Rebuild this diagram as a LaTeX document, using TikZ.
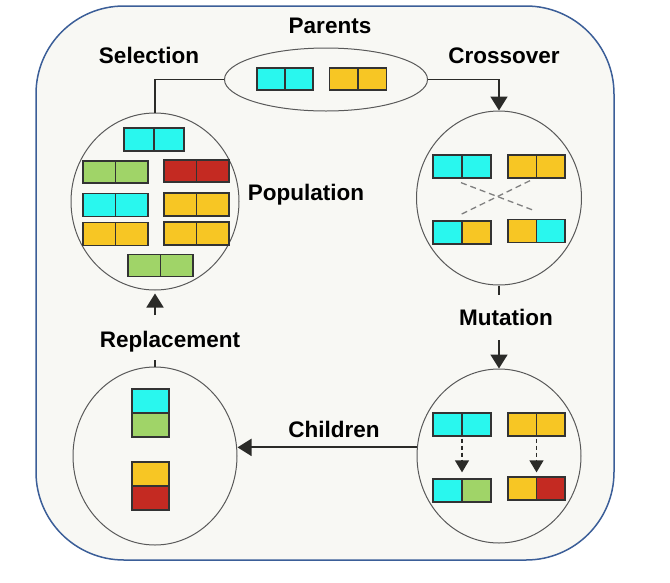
\documentclass[tikz,border=0pt]{standalone}
\usepackage{fontspec}
\setmainfont{Liberation Sans}
\usetikzlibrary{shapes.geometric,arrows.meta}
\definecolor{gcyan}{HTML}{29F7EE}
\definecolor{gyel}{HTML}{F7C624}
\definecolor{ggrn}{HTML}{A0D468}
\definecolor{gred}{HTML}{C42A22}
\definecolor{panel}{HTML}{F8F8F4}
\definecolor{framecol}{HTML}{3B5E98}
\definecolor{ink}{HTML}{2B2B28}
\tikzset{
  lbl/.style={font=\fontsize{22.5}{27}\selectfont\bfseries, inner sep=0pt, anchor=base, text=black},
  ring/.style={ellipse, draw=black!65, line width=1pt, inner sep=0pt},
  conn/.style={draw=ink, line width=1.9pt},
  arr/.style={conn, -{Triangle[length=14pt,width=17pt]}},
  chromo/.style={draw=black!80, line width=1.3pt, inner sep=0pt},
  crossdash/.style={draw=black!50, line width=1.3pt, dash pattern=on 6pt off 4pt},
  mutarr/.style={draw=ink, line width=1.4pt, dash pattern=on 4pt off 3pt, -{Triangle[length=12pt,width=14pt]}},
}
% horizontal chromosome: name, x, y, w, h, left colour, right colour
\newcommand\hchrom[7]{%
  \node[chromo, minimum width=#4pt, minimum height=#5pt, fill=#7,
    path picture={\fill[#6] (path picture bounding box.south west) rectangle (path picture bounding box.north);
      \draw[black!80, line width=1.3pt] (path picture bounding box.south) -- (path picture bounding box.north);}]
    (#1) at (#2,#3) {};}
% vertical chromosome: name, x, y, w, h, top colour, bottom colour
\newcommand\vchrom[7]{%
  \node[chromo, minimum width=#4pt, minimum height=#5pt, fill=#7,
    path picture={\fill[#6] (path picture bounding box.west) rectangle (path picture bounding box.north east);
      \draw[black!80, line width=1.3pt] (path picture bounding box.west) -- (path picture bounding box.east);}]
    (#1) at (#2,#3) {};}
\begin{document}
\begin{tikzpicture}[x=1pt,y=-1pt]
\useasboundingbox (0,0) rectangle (670,582);
\fill[white] (0,0) rectangle (670,582);
\draw[framecol, fill=panel, line width=1.5pt, rounded corners=88pt] (36,6) rectangle (614,560);

% rings
\node[ring, minimum width=203pt, minimum height=63pt] (par) at (326,79.5) {};
\node[ring, minimum width=168pt, minimum height=177pt] (pop) at (155,201.5) {};
\node[ring, minimum width=165pt, minimum height=174pt] (xo) at (499,198) {};
\node[ring, minimum width=164pt, minimum height=174pt] (mu) at (499,456) {};
\node[ring, minimum width=164pt, minimum height=178pt] (rep) at (155,456) {};

% labels
\node[lbl] (lpar) at (330,33) {Parents};
\node[lbl] (lsel) at (149,63) {Selection};
\node[lbl] (lxo) at (504,63) {Crossover};
\node[lbl] (lpop) at (306,200) {Population};
\node[lbl] (lmu) at (506,325) {Mutation};
\node[lbl] (lrep) at (170,347) {Replacement};
\node[lbl] (lch) at (334,437) {Children};

% parents
\hchrom{p1}{285}{79}{56}{22}{gcyan}{gcyan}
\hchrom{p2}{358}{79}{57}{22}{gyel}{gyel}

% population
\hchrom{q1}{154}{139.5}{60}{23}{gcyan}{gcyan}
\hchrom{q2}{115.5}{172}{65}{22}{ggrn}{ggrn}
\hchrom{q3}{196.5}{171}{65}{22}{gred}{gred}
\hchrom{q4}{115.5}{205}{65}{23}{gcyan}{gcyan}
\hchrom{q5}{196.5}{204.5}{65}{23}{gyel}{gyel}
\hchrom{q6}{115.5}{234}{65}{23}{gyel}{gyel}
\hchrom{q7}{196.5}{233.5}{65}{23}{gyel}{gyel}
\hchrom{q8}{160.5}{265.5}{65}{22}{ggrn}{ggrn}

% crossover
\hchrom{c1}{462}{166.5}{58}{23}{gcyan}{gcyan}
\hchrom{c2}{536.5}{166.5}{57}{23}{gyel}{gyel}
\hchrom{c3}{462}{232.5}{58}{23}{gcyan}{gyel}
\hchrom{c4}{536.5}{231}{57}{23}{gyel}{gcyan}
\draw[crossdash] ([shift={(-1,4)}]c1.south) -- ([shift={(-1.5,-8)}]c4.north);
\draw[crossdash] ([shift={(-6.5,2)}]c2.south) -- ([shift={(-3,-5)}]c3.north);

% mutation
\hchrom{m1}{462}{424.5}{58}{23}{gcyan}{gcyan}
\hchrom{m2}{536.5}{424.5}{57}{23}{gyel}{gyel}
\hchrom{m3}{462}{490.5}{58}{23}{gcyan}{ggrn}
\hchrom{m4}{536.5}{488.5}{57}{23}{gyel}{gred}
\draw[mutarr, shorten <=2pt, shorten >=6pt] (m1.south) -- (m3.north);
\draw[mutarr, shorten <=2pt, shorten >=4pt] (m2.south) -- (m4.north);

% replacement
\vchrom{r1}{150.5}{413}{37}{48}{gcyan}{ggrn}
\vchrom{r2}{150.5}{486}{37}{48}{gyel}{gred}

% connectors
\coordinate (xotick) at (499,295);
\coordinate (mustart) at (499,340);
\coordinate (reptick) at (155,360);
\coordinate (popstart) at (155,315);
\draw[conn] (par.west) -| (pop.north);
\draw[arr] (par.east) -| (xo.north);
\draw[conn] (xo.south) -- (xotick);
\draw[arr] (mustart) -- (mu.north);
\draw[arr] (mu.174) -- (mu.174 -| rep.east);
\draw[conn] (rep.north) -- (reptick);
\draw[arr, shorten >=3pt] (popstart) -- (pop.south);
\end{tikzpicture}
\end{document}
